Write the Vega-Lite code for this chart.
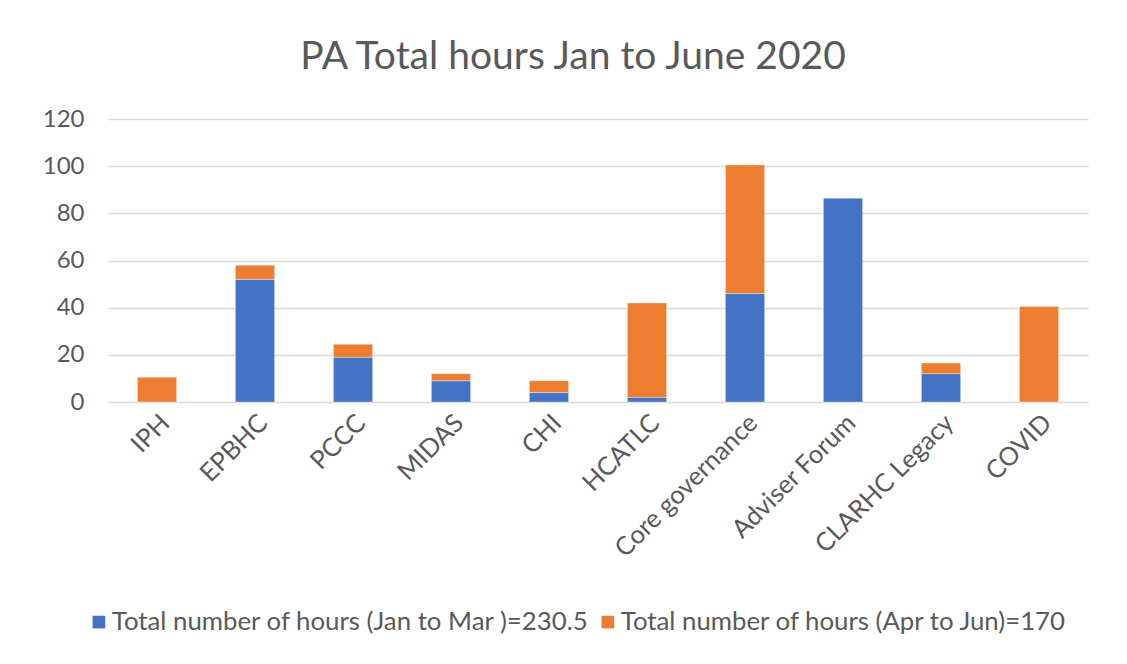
{
  "$schema": "https://vega.github.io/schema/vega-lite/v6.json",
  "autosize": {"type": "none"},
  "width": 980,
  "height": 283,
  "padding": {"left": 108, "top": 119, "right": 39, "bottom": 262},
  "background": "white",
  "title": {
    "text": "PA Total hours Jan to June 2020",
    "font": "Lato",
    "fontSize": 39,
    "fontWeight": "normal",
    "color": "#595959",
    "anchor": "middle",
    "dx": -25,
    "offset": 30
  },
  "data": {
    "values": [
      {"category": "IPH", "period": "Total number of hours (Jan to Mar )=230.5", "hours": 0},
      {"category": "IPH", "period": "Total number of hours (Apr to Jun)=170", "hours": 10.5},
      {"category": "EPBHC", "period": "Total number of hours (Jan to Mar )=230.5", "hours": 52},
      {"category": "EPBHC", "period": "Total number of hours (Apr to Jun)=170", "hours": 6},
      {"category": "PCCC", "period": "Total number of hours (Jan to Mar )=230.5", "hours": 19},
      {"category": "PCCC", "period": "Total number of hours (Apr to Jun)=170", "hours": 5.5},
      {"category": "MIDAS", "period": "Total number of hours (Jan to Mar )=230.5", "hours": 9},
      {"category": "MIDAS", "period": "Total number of hours (Apr to Jun)=170", "hours": 3},
      {"category": "CHI", "period": "Total number of hours (Jan to Mar )=230.5", "hours": 4},
      {"category": "CHI", "period": "Total number of hours (Apr to Jun)=170", "hours": 5},
      {"category": "HCATLC", "period": "Total number of hours (Jan to Mar )=230.5", "hours": 2},
      {"category": "HCATLC", "period": "Total number of hours (Apr to Jun)=170", "hours": 40},
      {"category": "Core governance", "period": "Total number of hours (Jan to Mar )=230.5", "hours": 46},
      {"category": "Core governance", "period": "Total number of hours (Apr to Jun)=170", "hours": 54.5},
      {"category": "Adviser Forum", "period": "Total number of hours (Jan to Mar )=230.5", "hours": 86.5},
      {"category": "Adviser Forum", "period": "Total number of hours (Apr to Jun)=170", "hours": 0},
      {"category": "CLARHC Legacy", "period": "Total number of hours (Jan to Mar )=230.5", "hours": 12},
      {"category": "CLARHC Legacy", "period": "Total number of hours (Apr to Jun)=170", "hours": 4.5},
      {"category": "COVID", "period": "Total number of hours (Jan to Mar )=230.5", "hours": 0},
      {"category": "COVID", "period": "Total number of hours (Apr to Jun)=170", "hours": 40.5}
    ]
  },
  "mark": {"type": "bar", "stroke": "white", "strokeWidth": 0.6, "strokeOpacity": 0.6},
  "encoding": {
    "x": {
      "field": "category",
      "type": "nominal",
      "sort": null,
      "scale": {"paddingInner": 0.6, "paddingOuter": 0.3},
      "axis": {
        "title": null,
        "labelAngle": -45,
        "labelFont": "Lato",
        "labelFontSize": 25.5,
        "labelLimit": 400,
        "labelColor": "#595959",
        "ticks": false,
        "domain": false,
        "labelPadding": 8
      }
    },
    "y": {
      "field": "hours",
      "type": "quantitative",
      "stack": "zero",
      "scale": {"domain": [0, 120]},
      "axis": {
        "title": null,
        "values": [0, 20, 40, 60, 80, 100, 120],
        "labelFont": "Lato",
        "labelFontSize": 24,
        "labelColor": "#595959",
        "ticks": false,
        "domain": false,
        "labelPadding": 24,
        "grid": true,
        "gridColor": "#D9D9D9",
        "gridWidth": 1.5
      }
    },
    "color": {
      "field": "period",
      "type": "nominal",
      "scale": {
        "domain": ["Total number of hours (Jan to Mar )=230.5", "Total number of hours (Apr to Jun)=170"],
        "range": ["#4472C4", "#ED7D31"]
      },
      "legend": {
        "title": null,
        "orient": "none",
        "direction": "horizontal",
        "legendX": -22,
        "legendY": 490,
        "symbolType": "square",
        "symbolSize": 160,
        "symbolStrokeWidth": 0,
        "labelFont": "Lato",
        "labelFontSize": 25.8,
        "labelColor": "#595959",
        "labelLimit": 700,
        "columnPadding": 5,
        "labelOffset": 0
      }
    },
    "order": {"field": "period", "sort": "descending"}
  },
  "config": {
    "view": {"stroke": null}
  }
}
